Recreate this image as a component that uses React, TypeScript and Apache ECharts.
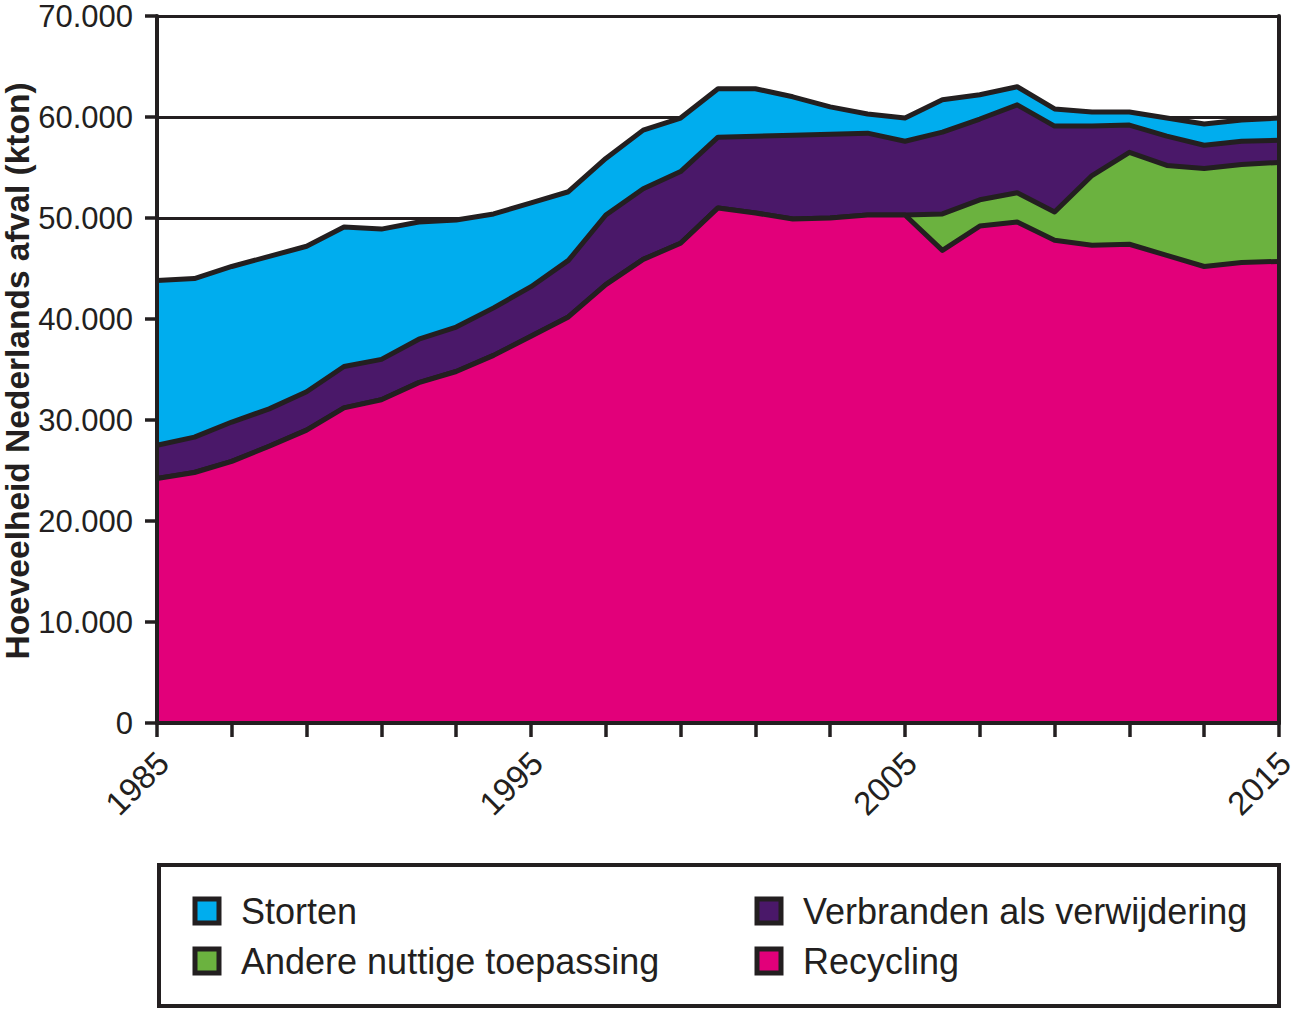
import React, { useEffect, useRef } from "react";
import * as echarts from "echarts";

const years = [
  "1985", "1986", "1987", "1988", "1989", "1990", "1991", "1992", "1993", "1994",
  "1995", "1996", "1997", "1998", "1999", "2000", "2001", "2002", "2003", "2004",
  "2005", "2006", "2007", "2008", "2009", "2010", "2011", "2012", "2013", "2014", "2015",
];

// kton per year
const recycling = [
  24200, 24800, 25900, 27400, 29000, 31200, 32000, 33700, 34800, 36400,
  38300, 40200, 43400, 45900, 47500, 51000, 50500, 49900, 50000, 50300,
  50300, 46800, 49200, 49600, 47800, 47300, 47400, 46300, 45200, 45600, 45700,
];
const andereNuttig = [
  0, 0, 0, 0, 0, 0, 0, 0, 0, 0,
  0, 0, 0, 0, 0, 0, 0, 0, 0, 0,
  0, 3600, 2600, 2900, 2800, 6900, 9100, 8900, 9700, 9700, 9800,
];
const verbranden = [
  3300, 3500, 3900, 3700, 3800, 4100, 4000, 4300, 4400, 4700,
  4900, 5600, 6900, 7000, 7100, 7000, 7600, 8300, 8300, 8100,
  7300, 8100, 8000, 8700, 8500, 4900, 2700, 2900, 2300, 2300, 2200,
];
const storten = [
  16300, 15700, 15400, 15100, 14400, 13800, 12900, 11600, 10600, 9300,
  8300, 6800, 5600, 5800, 5300, 4800, 4700, 3800, 2700, 1900,
  2300, 3200, 2400, 1800, 1700, 1400, 1300, 1800, 2100, 2100, 2200,
];

const yTicks = { min: 0, max: 70000, interval: 10000 };
const yTitle = "Hoeveelheid Nederlands afval (kton)";

const DARK = "#231f20";
const PINK = "#e2007a";
const GREEN = "#6bb23f";
const PURPLE = "#4a1869";
const BLUE = "#00adee";
const FONT = "'Liberation Sans', Arial, Helvetica, sans-serif";

const fmt = (v: number) => String(v).replace(/\B(?=(\d{3})+(?!\d))/g, ".");

const seriesDefs = [
  { name: "Recycling", data: recycling, color: PINK, z: 5 },
  { name: "Andere nuttige toepassing", data: andereNuttig, color: GREEN, z: 4 },
  { name: "Verbranden als verwijdering", data: verbranden, color: PURPLE, z: 3 },
  { name: "Storten", data: storten, color: BLUE, z: 2 },
];

const legendLayout = [
  { name: "Storten", left: 192.5, top: 893 },
  { name: "Verbranden als verwijdering", left: 754.5, top: 893 },
  { name: "Andere nuttige toepassing", left: 192.5, top: 943 },
  { name: "Recycling", left: 754.5, top: 943 },
];

export default function App() {
  const ref = useRef<HTMLDivElement>(null);
  useEffect(() => {
    if (!ref.current) return;
    const chart = echarts.init(ref.current, undefined, { renderer: "svg" });
    const option: any = {
      animation: false,
      textStyle: { fontFamily: FONT },
      grid: {
        left: 157,
        top: 16,
        right: 20,
        bottom: 288,
        containLabel: false,
        outerBoundsMode: "none",
      },
      xAxis: [
        {
          type: "category",
          data: years,
          boundaryGap: false,
          position: "bottom",
          z: 10,
          axisLine: { show: true, lineStyle: { color: DARK, width: 4 } },
          axisTick: { show: true, interval: 1, length: 14, lineStyle: { color: DARK, width: 3.5 } },
          axisLabel: {
            interval: 9,
            rotate: 45,
            margin: 17,
            fontSize: 33,
            color: DARK,
            fontFamily: FONT,
            verticalAlign: "top",
            padding: [0, 8, 0, 0],
            hideOverlap: false,
          },
          splitLine: { show: false },
        },
        {
          type: "category",
          data: years,
          boundaryGap: false,
          position: "top",
          z: 10,
          axisLine: { show: true, lineStyle: { color: DARK, width: 4 } },
          axisTick: { show: false },
          axisLabel: { show: false },
          splitLine: { show: false },
        },
      ],
      yAxis: [
        {
          type: "value",
          ...yTicks,
          z: 0,
          axisLine: { show: false },
          axisTick: { show: false },
          axisLabel: { show: false },
          splitLine: { show: true, lineStyle: { color: DARK, width: 3 } },
        },
        {
          type: "value",
          ...yTicks,
          position: "left",
          z: 10,
          axisLine: { show: true, lineStyle: { color: DARK, width: 4 } },
          axisTick: { show: true, length: 12, lineStyle: { color: DARK, width: 3.5 } },
          axisLabel: {
            formatter: (v: number) => fmt(v),
            margin: 24,
            fontSize: 31,
            color: DARK,
            fontFamily: FONT,
          },
          splitLine: { show: false },
        },
        {
          type: "value",
          ...yTicks,
          position: "right",
          z: 10,
          axisLine: { show: true, lineStyle: { color: DARK, width: 4 } },
          axisTick: { show: false },
          axisLabel: { show: false },
          splitLine: { show: false },
        },
      ],
      legend: legendLayout.map((l) => ({
        data: [l.name],
        left: l.left,
        top: l.top,
        padding: 0,
        icon: "rect",
        itemWidth: 24,
        itemHeight: 24,
        selectedMode: false,
        itemStyle: { borderColor: DARK, borderWidth: 5 },
        textStyle: {
          fontSize: 36,
          color: DARK,
          fontFamily: FONT,
          padding: [0, 0, 0, 17],
        },
      })),
      graphic: [
        {
          type: "text",
          x: 17,
          y: 371,
          rotation: Math.PI / 2,
          style: {
            text: yTitle,
            font: `bold 33.5px ${FONT}`,
            fill: DARK,
            align: "center",
            verticalAlign: "middle",
          },
        },
        {
          type: "rect",
          shape: { x: 159, y: 865, width: 1120, height: 141 },
          style: { fill: "none", stroke: DARK, lineWidth: 4 },
        },
      ],
      series: seriesDefs.map((s) => ({
        name: s.name,
        type: "line",
        stack: "total",
        data: s.data,
        z: s.z,
        symbol: "none",
        xAxisIndex: 0,
        yAxisIndex: 0,
        lineStyle: { color: DARK, width: 5, join: "round" },
        itemStyle: { color: s.color },
        areaStyle: { color: s.color, opacity: 1 },
        emphasis: { disabled: true },
      })),
    };
    chart.setOption(option);
    return () => chart.dispose();
  }, []);
  return (
    <div
      ref={ref}
      style={{ position: "fixed", left: 0, top: 0, width: 1299, height: 1011, background: "#fff" }}
    />
  );
}
